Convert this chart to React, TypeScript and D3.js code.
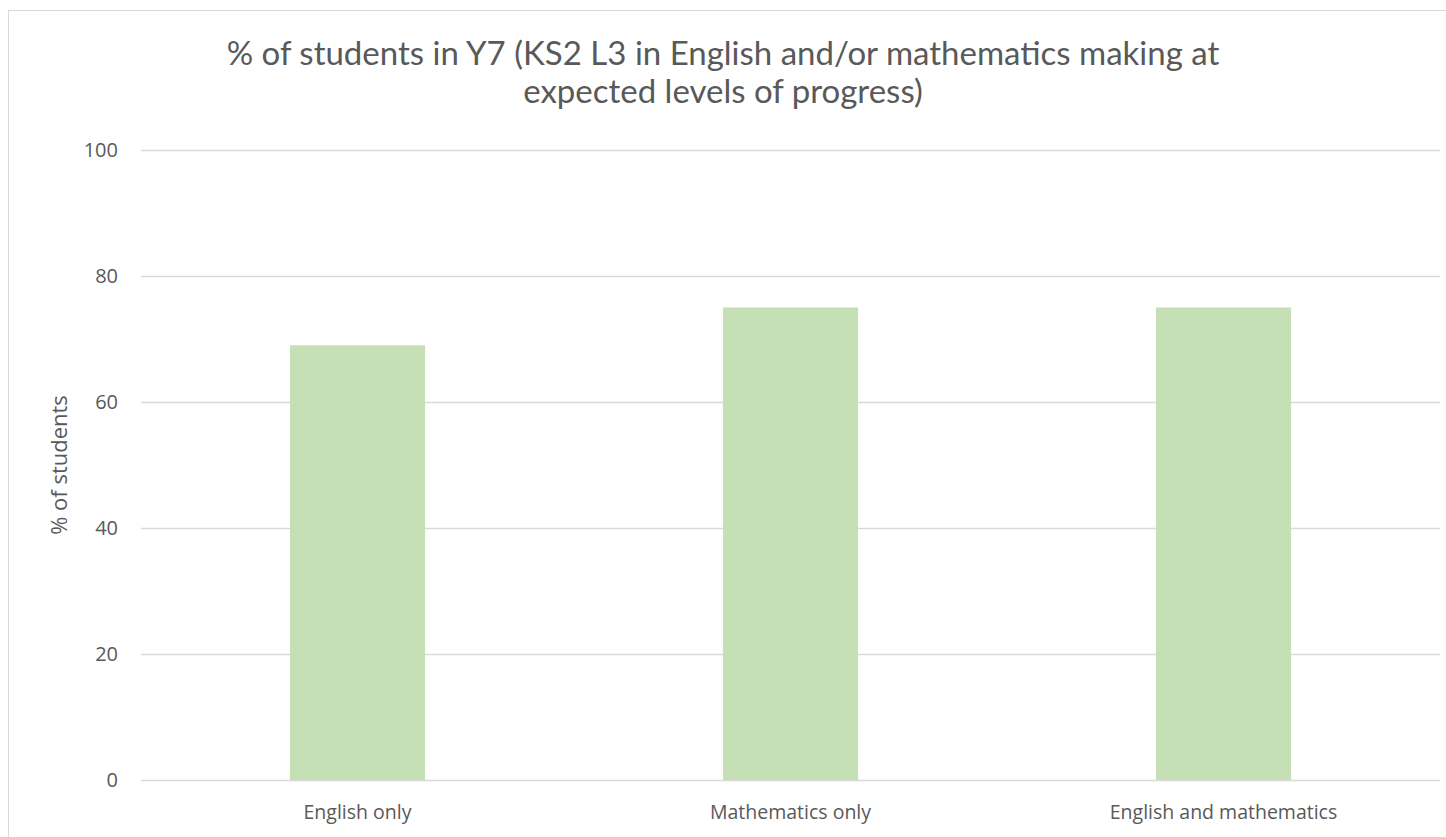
import React, { useEffect, useRef } from 'react';
import * as d3 from 'd3';

const categories = ['English only', 'Mathematics only', 'English and mathematics'];
const values = [69, 75, 75];
const yTicks = [0, 20, 40, 60, 80, 100];
const titleLines = [
  '% of students in Y7 (KS2 L3 in English and/or mathematics making at',
  'expected levels of progress)',
];

const W = 1446;
const H = 837;

const App = () => {
  const ref = useRef<SVGSVGElement>(null);

  useEffect(() => {
    const svg = d3.select(ref.current);
    svg.selectAll('*').remove();

    const plot = { left: 141, right: 1440, top: 150, bottom: 780 };

    const x = d3.scaleBand()
      .domain(categories)
      .range([plot.left, plot.right])
      .paddingInner(0.688)
      .paddingOuter(0.344);

    const y = d3.scaleLinear().domain([0, 100]).range([plot.bottom, plot.top]);

    // chart area border (cropped on right/bottom)
    svg.append('rect')
      .attr('x', 8.5)
      .attr('y', 10.5)
      .attr('width', W)
      .attr('height', H)
      .attr('fill', '#fff')
      .attr('stroke', '#d9d9d9')
      .attr('stroke-width', 1);

    // title
    svg.append('text')
      .attr('text-anchor', 'middle')
      .attr('font-family', 'Lato, sans-serif')
      .attr('font-size', 33)
      .attr('fill', '#595959')
      .selectAll('tspan')
      .data(titleLines)
      .enter()
      .append('tspan')
      .attr('x', 723)
      .attr('y', (d, i) => 65 + i * 38)
      .text(d => d);

    // gridlines
    svg.append('g')
      .selectAll('line')
      .data(yTicks)
      .enter()
      .append('line')
      .attr('x1', plot.left)
      .attr('x2', plot.right)
      .attr('y1', d => Math.round(y(d)) + 0.5)
      .attr('y2', d => Math.round(y(d)) + 0.5)
      .attr('stroke', '#d9d9d9')
      .attr('stroke-width', 1.3);

    // y tick labels
    svg.append('g')
      .selectAll('text')
      .data(yTicks)
      .enter()
      .append('text')
      .attr('x', 118)
      .attr('y', d => y(d))
      .attr('dy', '0.35em')
      .attr('text-anchor', 'end')
      .attr('font-family', '"Open Sans", sans-serif')
      .attr('font-size', 20)
      .attr('fill', '#595959')
      .text(d => d);

    // bars
    svg.append('g')
      .selectAll('rect')
      .data(values)
      .enter()
      .append('rect')
      .attr('x', (d, i) => x(categories[i]))
      .attr('y', d => y(d))
      .attr('width', x.bandwidth())
      .attr('height', d => y(0) - y(d))
      .attr('fill', '#c5e0b4');

    // x labels
    svg.append('g')
      .selectAll('text')
      .data(categories)
      .enter()
      .append('text')
      .attr('x', d => x(d) + x.bandwidth() / 2)
      .attr('y', 819)
      .attr('text-anchor', 'middle')
      .attr('font-family', '"Open Sans", sans-serif')
      .attr('font-size', 19.5)
      .attr('fill', '#595959')
      .text(d => d);

    // y axis title
    svg.append('text')
      .attr('transform', 'translate(67,' + (plot.top + plot.bottom) / 2 + ') rotate(-90)')
      .attr('text-anchor', 'middle')
      .attr('font-family', '"Open Sans", sans-serif')
      .attr('font-size', 22)
      .attr('fill', '#595959')
      .text('% of students');
  }, []);

  return (
    <svg
      ref={ref}
      width={W}
      height={H}
      style={{ position: 'absolute', left: 0, top: 0, background: '#fff' }}
    />
  );
};

export default App;
